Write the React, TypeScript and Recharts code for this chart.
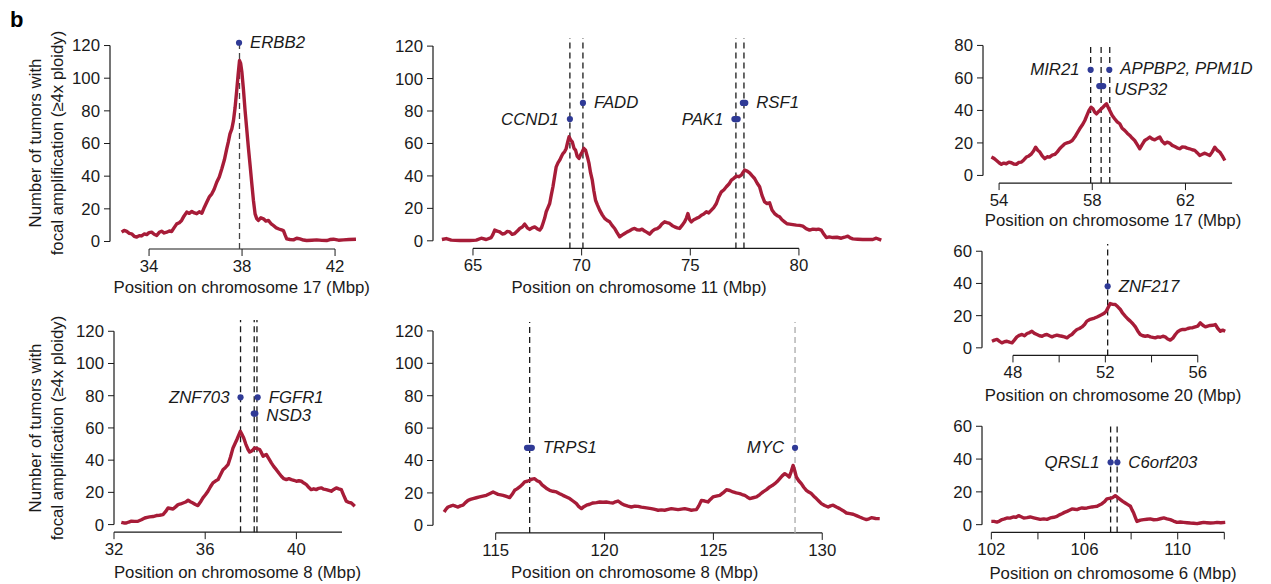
import React from 'react';
import { ComposedChart, Line, XAxis, YAxis, ReferenceLine, Scatter, ReferenceDot } from 'recharts';

const FONT = '"Liberation Sans", Arial, Helvetica, sans-serif';
const RED = '#A71C38';
const BLUE = '#2F3A96';
const INK = '#1a1a1a';
const FS = 16.8;

type Pt = [number, number];
type Lab = { name: string; x: number; y: number; side: 'left' | 'right' };

// ---------- Panel A: chromosome 17 (ERBB2) ----------
const erbb2Curve: Pt[] = [[32.82,5.7],[32.93,6.8],[33.04,6.2],[33.15,5.0],[33.25,4.7],[33.36,3.2],[33.47,2.7],[33.58,3.6],[33.68,3.4],[33.8,4.6],[33.9,4.2],[34.0,5.4],[34.11,5.7],[34.22,4.4],[34.33,3.7],[34.44,5.6],[34.54,6.3],[34.65,5.2],[34.76,5.7],[34.87,6.4],[34.97,6.1],[35.08,8.5],[35.19,10.8],[35.3,11.5],[35.4,12.9],[35.5,15.5],[35.62,18],[35.73,17.2],[35.84,18.4],[35.95,17.5],[36.05,17],[36.16,18.2],[36.27,17.3],[36.38,21],[36.48,24],[36.6,27.5],[36.7,29.2],[36.8,32],[36.91,36.3],[37.02,39.5],[37.13,44.5],[37.24,50],[37.34,56.7],[37.41,61],[37.48,65.9],[37.56,69],[37.63,74],[37.7,82],[37.77,92.4],[37.83,102],[37.89,110.8],[37.94,109],[37.99,104],[38.06,93],[38.13,80.2],[38.2,69],[38.27,57.8],[38.35,46],[38.42,35.3],[38.49,25],[38.56,16.9],[38.63,14],[38.7,12.9],[38.81,14.5],[38.92,13.9],[39.02,12.5],[39.13,12.9],[39.24,11],[39.35,9.8],[39.45,8.5],[39.56,7.8],[39.67,7.2],[39.78,6.7],[39.85,4],[39.92,1.6],[40.06,1.2],[40.21,1.0],[40.35,2.0],[40.49,1.6],[40.64,0.9],[40.78,0.6],[41.0,0.8],[41.21,1.0],[41.43,0.7],[41.64,0.6],[41.78,1.2],[41.93,1.4],[42.15,0.8],[42.36,1.0],[42.6,1.2],[42.9,1.4]];
const erbb2Marks = [37.89];
const erbb2MarkTone = ['#444'];
const erbb2Dots: Pt[] = [[37.87, 121.7]];
const erbb2Labels: Lab[] = [{ name: 'ERBB2', x: 37.87, y: 121.7, side: 'right' }];

// ---------- Panel B: chromosome 11 (CCND1 / PAK1) ----------
const chr11Curve: Pt[] = [[63.57,0.8],[63.77,1.4],[64.0,0.4],[64.39,0.2],[64.85,0.2],[65.15,0.4],[65.38,1.6],[65.61,0.8],[65.84,2],[65.92,4],[66.0,6.6],[66.12,6.0],[66.23,5.5],[66.35,4.2],[66.46,4.5],[66.58,5.8],[66.69,5.5],[66.8,4.0],[66.92,4.5],[67.04,6.0],[67.15,7.6],[67.27,8.5],[67.38,10.3],[67.5,8.0],[67.61,7],[67.72,8.0],[67.84,8.6],[67.95,7.5],[68.07,6.6],[68.15,8],[68.22,10.7],[68.3,14],[68.37,17.9],[68.45,20.5],[68.53,23],[68.6,28],[68.68,33.3],[68.76,40],[68.83,45.6],[68.91,48],[68.99,49.7],[69.07,52],[69.14,53.8],[69.22,55],[69.29,56.9],[69.36,61],[69.42,64.1],[69.5,62],[69.57,61],[69.65,57],[69.72,55.9],[69.8,52],[69.88,50.8],[69.95,53],[70.03,54.9],[70.1,57],[70.18,55.9],[70.26,52],[70.34,47.7],[70.41,42],[70.49,37.4],[70.56,31],[70.64,25],[70.73,22],[70.83,18.9],[70.95,16],[71.06,13.8],[71.18,12.5],[71.29,11.7],[71.4,9.5],[71.52,7.6],[71.63,5],[71.75,2.5],[71.86,3.5],[71.98,4.5],[72.1,5.5],[72.21,6.2],[72.33,7.2],[72.44,7.6],[72.55,6.8],[72.67,6.6],[72.78,7.2],[72.9,6],[73.01,5.2],[73.13,4.1],[73.25,6.0],[73.36,7],[73.48,7.5],[73.59,8.6],[73.7,10.5],[73.82,11.7],[73.93,11.2],[74.05,10.7],[74.16,9.5],[74.28,8.6],[74.4,8.0],[74.51,7.6],[74.62,9.5],[74.74,11.7],[74.82,14],[74.89,16.8],[74.97,13],[75.05,11.7],[75.16,13],[75.28,13.8],[75.4,14.5],[75.51,15.8],[75.62,16.5],[75.74,17.9],[75.85,17.2],[75.97,18.9],[76.08,20.5],[76.2,23],[76.31,27],[76.43,30.2],[76.55,31.5],[76.66,33.3],[76.78,35],[76.89,37.4],[77.0,38.5],[77.12,39.9],[77.23,39.5],[77.35,40.5],[77.42,42],[77.5,43.6],[77.62,43],[77.73,41.9],[77.85,40],[77.96,38.4],[78.08,35.5],[78.19,33.3],[78.3,28],[78.42,24],[78.53,23],[78.65,23.4],[78.76,19],[78.88,16.8],[79.0,15.5],[79.11,14.8],[79.22,13],[79.34,11.7],[79.45,10.5],[79.57,10.3],[79.72,10],[79.88,9.7],[80.03,9.5],[80.18,9],[80.33,7.5],[80.49,6.6],[80.64,7.2],[80.8,7],[80.9,7.2],[81.03,6.6],[81.15,4],[81.26,2],[81.4,2.4],[81.56,2],[81.75,2.2],[81.95,1.6],[82.1,2.2],[82.25,2.9],[82.36,1.8],[82.48,1.2],[82.7,1.0],[82.94,0.8],[83.2,0.9],[83.4,0.8],[83.56,1.6],[83.79,0.4]];
const chr11Marks = [69.46, 70.06, 77.1, 77.47];
const chr11MarkTone = [INK, INK, INK, INK];
const chr11Dots: Pt[] = [[69.46,75],[70.06,85],[77.03,75],[77.1,75],[77.18,75],[77.42,85],[77.47,85],[77.53,85]];
const chr11Labels: Lab[] = [
  { name: 'CCND1', x: 69.46, y: 75, side: 'left' },
  { name: 'FADD', x: 70.06, y: 85, side: 'right' },
  { name: 'PAK1', x: 77.03, y: 75, side: 'left' },
  { name: 'RSF1', x: 77.53, y: 85, side: 'right' },
];

// ---------- Panel C: chromosome 17 (PPM1D) ----------
const chr17qCurve: Pt[] = [[53.67,11.3],[53.78,10.5],[53.89,9.2],[54.0,7.8],[54.1,6.8],[54.2,7.6],[54.31,7.2],[54.42,8.2],[54.53,7.8],[54.63,7.0],[54.74,6.8],[54.85,8.0],[54.96,8.2],[55.06,9.5],[55.17,11.3],[55.28,12],[55.39,13.3],[55.48,15],[55.57,17.4],[55.66,15.5],[55.75,14.4],[55.85,12],[55.96,10.3],[56.07,11.5],[56.17,11.3],[56.28,12.5],[56.39,12.9],[56.5,14.5],[56.6,16.4],[56.71,18],[56.82,19.5],[56.92,20],[57.03,20.5],[57.14,21.5],[57.25,23.6],[57.35,26],[57.46,28.7],[57.57,31],[57.68,33.8],[57.77,37],[57.86,40],[57.95,42],[58.03,41],[58.1,39],[58.18,37.9],[58.25,39],[58.32,40],[58.39,41],[58.46,42],[58.53,43],[58.61,44.1],[58.68,42],[58.75,40],[58.85,37],[58.96,34.9],[59.07,33],[59.18,31.8],[59.28,29],[59.39,27.7],[59.5,26],[59.61,24.6],[59.71,23],[59.82,21.5],[59.93,19],[60.04,16.4],[60.14,19],[60.25,21.5],[60.36,22.5],[60.47,23.6],[60.57,22.5],[60.68,21.9],[60.79,22.8],[60.9,23.6],[61.0,21],[61.11,19.5],[61.21,20.5],[61.32,19.9],[61.43,18.5],[61.54,17.8],[61.64,17],[61.75,16.4],[61.86,17.5],[61.97,17.4],[62.07,16.8],[62.18,16.4],[62.29,15.8],[62.4,15.4],[62.5,14],[62.61,12.3],[62.72,13],[62.83,13.7],[62.93,13],[63.04,12.3],[63.15,14.5],[63.26,17.4],[63.36,15.5],[63.47,14.4],[63.58,12],[63.69,9.2]];
const chr17qMarks = [57.93, 58.38, 58.75];
const chr17qMarkTone = [INK, INK, INK];
const chr17qDots: Pt[] = [[57.93,65],[58.73,65],[58.3,55],[58.38,55],[58.47,55]];
const chr17qLabels: Lab[] = [
  { name: 'MIR21', x: 57.93, y: 65, side: 'left' },
  { name: 'APPBP2, PPM1D', x: 58.73, y: 66, side: 'right' },
  { name: 'USP32', x: 58.47, y: 52.8, side: 'right' },
];

// ---------- Panel D: chromosome 20 (ZNF217) ----------
const chr20Curve: Pt[] = [[47.09,4.1],[47.2,4.8],[47.31,5.2],[47.42,4.0],[47.52,3.1],[47.63,3.8],[47.74,4.1],[47.85,3.5],[47.96,3.1],[48.06,4.8],[48.17,6.8],[48.28,7.8],[48.39,8.3],[48.5,7.5],[48.61,8.9],[48.72,9.5],[48.82,10.3],[48.93,9.0],[49.04,8.3],[49.15,7.5],[49.26,7.2],[49.37,8.0],[49.47,8.3],[49.58,7.5],[49.69,6.8],[49.8,7.5],[49.9,7.9],[50.01,7.5],[50.12,7.2],[50.23,6.8],[50.34,6.2],[50.45,7.5],[50.55,8.3],[50.66,10],[50.77,11.4],[50.88,12],[50.99,13],[51.1,14.5],[51.2,16.6],[51.31,17.5],[51.42,18],[51.53,18.5],[51.64,19.2],[51.75,20],[51.85,20.7],[51.95,21.5],[52.04,22.8],[52.12,25],[52.21,27.5],[52.32,27],[52.43,26.9],[52.54,25.5],[52.65,23.8],[52.75,21.5],[52.86,19.7],[52.97,18],[53.08,16.6],[53.19,15],[53.3,13],[53.4,10.5],[53.51,8.3],[53.62,7.5],[53.73,7.2],[53.84,7.5],[53.95,6.8],[54.05,6.5],[54.16,6.2],[54.27,6.8],[54.38,6.6],[54.49,7.2],[54.59,6.8],[54.7,5.5],[54.81,4.8],[54.92,6],[55.03,8.3],[55.13,10],[55.24,11],[55.35,11.5],[55.46,11.4],[55.57,12],[55.68,12.4],[55.78,12.5],[55.89,13],[56.0,13.5],[56.11,15.5],[56.22,14],[56.33,13],[56.43,13.5],[56.54,13.9],[56.65,14],[56.76,14.5],[56.87,12],[56.98,10.3],[57.08,11],[57.19,10.3]];
const chr20Marks = [52.1];
const chr20MarkTone = [INK];
const chr20Dots: Pt[] = [[52.1,38.2]];
const chr20Labels: Lab[] = [{ name: 'ZNF217', x: 52.1, y: 38.2, side: 'right' }];

// ---------- Panel E: chromosome 8 (FGFR1) ----------
const chr8pCurve: Pt[] = [[32.32,1.4],[32.43,1.0],[32.54,1],[32.65,1.6],[32.76,2.1],[32.9,2.0],[33.05,2.1],[33.2,3.0],[33.35,4.1],[33.46,4.5],[33.56,4.8],[33.71,5.0],[33.86,5.6],[34.0,5.8],[34.15,6.2],[34.26,8],[34.37,10.3],[34.48,10.0],[34.59,9.7],[34.7,11],[34.81,12.4],[34.92,12.8],[35.03,13.4],[35.14,14],[35.25,15.1],[35.35,14.2],[35.46,13.4],[35.57,12.5],[35.68,11.8],[35.79,14],[35.9,16.6],[36.01,18.5],[36.12,20.7],[36.23,23.5],[36.34,25.9],[36.45,27],[36.56,27.9],[36.67,31],[36.78,34.1],[36.89,35.5],[37.0,37.2],[37.11,42],[37.22,47.6],[37.3,50],[37.39,52.8],[37.47,55.5],[37.54,57.9],[37.61,56],[37.69,53.8],[37.78,50],[37.88,46.6],[37.95,45],[38.02,45.5],[38.1,46.5],[38.17,47.6],[38.28,47.2],[38.39,46.6],[38.47,44.5],[38.54,42.4],[38.61,43],[38.68,43.5],[38.79,41],[38.9,38.3],[39.01,36],[39.12,34.1],[39.23,32],[39.34,30],[39.45,28.5],[39.56,27.9],[39.67,28.5],[39.78,27.9],[39.89,27.5],[40.0,26.9],[40.11,27.2],[40.22,26.9],[40.33,25.8],[40.44,24.8],[40.55,23],[40.65,21.7],[40.76,22.2],[40.87,21.7],[40.98,22.5],[41.09,22.8],[41.2,22],[41.31,21.7],[41.42,21.2],[41.53,20.7],[41.64,21.8],[41.75,22.8],[41.86,22.2],[41.97,21.7],[42.08,18],[42.19,14.5],[42.3,13.8],[42.41,13.4],[42.48,12.5],[42.56,11.4]];
const chr8pMarks = [37.55, 38.15, 38.27];
const chr8pMarkTone = [INK, INK, INK];
const chr8pDots: Pt[] = [[37.55,79],[38.3,79],[38.13,68.9],[38.2,68.9]];
const chr8pLabels: Lab[] = [
  { name: 'ZNF703', x: 37.55, y: 79, side: 'left' },
  { name: 'FGFR1', x: 38.3, y: 79, side: 'right' },
  { name: 'NSD3', x: 38.2, y: 67.5, side: 'right' },
];

// ---------- Panel F: chromosome 8 (TRPS1 / MYC) ----------
const chr8qCurve: Pt[] = [[112.63,8.2],[112.72,10],[112.81,11.3],[112.92,11.8],[113.04,12.4],[113.15,11.8],[113.27,11.3],[113.38,12],[113.5,12.4],[113.61,14],[113.73,15.4],[113.84,16],[113.96,16.5],[114.11,17],[114.26,17.5],[114.41,18],[114.57,18.5],[114.72,19.5],[114.88,20.6],[115.0,19.8],[115.11,19.1],[115.23,18.8],[115.34,18.5],[115.49,17.8],[115.64,17.1],[115.75,19],[115.87,21.6],[115.98,22.5],[116.1,23.7],[116.21,25],[116.33,26.8],[116.45,27.2],[116.56,27.8],[116.67,28.5],[116.79,28.8],[116.9,27.5],[117.02,26.8],[117.13,25],[117.25,23.7],[117.36,22.5],[117.48,21.6],[117.63,21],[117.79,20.6],[117.94,19.5],[118.09,18.5],[118.25,17.5],[118.4,16.5],[118.55,15],[118.71,13.4],[118.82,11.5],[118.94,10.3],[119.05,11.5],[119.17,12.4],[119.32,13],[119.47,13.8],[119.63,14],[119.78,14.4],[119.93,14.2],[120.08,14.4],[120.24,14],[120.39,13.8],[120.5,14.5],[120.62,15],[120.77,13.5],[120.93,12.4],[121.08,11.8],[121.23,11.3],[121.39,11.8],[121.54,11.7],[121.69,11.2],[121.85,10.9],[122.0,10.6],[122.15,10.3],[122.31,9.8],[122.46,9.3],[122.61,9.5],[122.76,9.3],[122.92,9.8],[123.07,10.3],[123.22,10],[123.38,9.7],[123.53,10],[123.68,10.3],[123.84,9.8],[123.99,9.3],[124.1,9.5],[124.22,9.7],[124.33,12],[124.45,15.4],[124.6,15],[124.75,14.4],[124.86,16],[124.98,17.5],[125.13,18],[125.29,18.5],[125.44,20],[125.6,22],[125.75,21.5],[125.9,20.6],[126.05,20],[126.21,19.6],[126.32,19],[126.44,18.5],[126.55,17.5],[126.67,16.5],[126.82,17],[126.98,17.5],[127.13,19],[127.28,20.6],[127.44,22],[127.59,23.7],[127.7,24.5],[127.82,25.7],[127.93,27],[128.05,28.8],[128.16,30.5],[128.28,31.9],[128.38,31],[128.48,29.8],[128.57,33],[128.66,37],[128.73,34],[128.81,29.8],[128.92,27.5],[129.04,25.7],[129.15,23.5],[129.27,21.6],[129.38,20.5],[129.5,19.6],[129.61,18],[129.73,16.5],[129.84,15],[129.96,13.4],[130.11,12.2],[130.27,11.3],[130.38,12],[130.5,12.4],[130.65,11.3],[130.8,10.3],[130.96,9],[131.11,7.6],[131.27,7.2],[131.42,6.8],[131.57,6],[131.72,5.1],[131.88,4.2],[132.03,3.5],[132.15,4],[132.26,4.7],[132.45,4.2],[132.64,4.1]];
const chr8qMarks = [116.56, 128.75];
const chr8qMarkTone = [INK, '#aaaaaa'];
const chr8qDots: Pt[] = [[116.44,47.8],[116.52,47.8],[116.6,47.8],[116.66,47.8],[128.75,47.8]];
const chr8qLabels: Lab[] = [
  { name: 'TRPS1', x: 116.66, y: 47.8, side: 'right' },
  { name: 'MYC', x: 128.75, y: 47.8, side: 'left' },
];

// ---------- Panel G: chromosome 6 (QRSL1 / C6orf203) ----------
const chr6Curve: Pt[] = [[102.0,2],[102.12,2.0],[102.24,1.6],[102.35,2.2],[102.46,3.1],[102.57,3.5],[102.67,4.1],[102.8,4.0],[102.96,4.7],[103.06,4.5],[103.17,5.5],[103.28,4.8],[103.39,4.1],[103.53,4.3],[103.67,4.7],[103.82,4.2],[103.96,3.7],[104.1,3.2],[104.25,3.5],[104.39,3.2],[104.53,4.1],[104.68,4.5],[104.82,5.1],[104.92,6],[105.03,6.7],[105.14,7.5],[105.25,8.1],[105.35,8.8],[105.46,9.6],[105.57,9.4],[105.68,9.2],[105.78,9.8],[105.89,10.2],[106.0,10],[106.11,10.2],[106.22,10.5],[106.32,10.8],[106.43,11],[106.54,11.2],[106.64,12],[106.75,12.8],[106.86,14],[106.96,15.7],[107.07,16],[107.18,16.3],[107.25,17],[107.32,17.7],[107.43,16.5],[107.54,15.3],[107.64,14.2],[107.75,13.2],[107.86,12.2],[107.97,11.2],[108.04,9],[108.11,7.1],[108.18,4.5],[108.25,2],[108.4,2.8],[108.54,3.1],[108.68,3.3],[108.82,3.5],[108.97,3.0],[109.11,3.1],[109.25,3.6],[109.4,4.1],[109.54,3.5],[109.68,3.1],[109.82,2.2],[109.97,1.4],[110.11,1.6],[110.25,1.4],[110.4,1.2],[110.54,1],[110.68,0.9],[110.83,0.6],[110.97,1.0],[111.11,1.4],[111.25,1.2],[111.4,1],[111.54,1.1],[111.69,1.4],[111.85,1.2],[112.04,1.4]];
const chr6Marks = [107.12, 107.4];
const chr6MarkTone = [INK, INK];
const chr6Dots: Pt[] = [[107.12,38],[107.41,38]];
const chr6Labels: Lab[] = [
  { name: 'QRSL1', x: 107.12, y: 38, side: 'left' },
  { name: 'C6orf203', x: 107.41, y: 38, side: 'right' },
];

// ---------- axis ticks ----------
const yTicks120 = [0, 20, 40, 60, 80, 100, 120];
const yTicks80 = [0, 20, 40, 60, 80];
const yTicks60 = [0, 20, 40, 60];

type PanelCfg = {
  curve: Pt[]; marks: number[]; markTone: string[]; dots: Pt[]; labels: Lab[];
  plotLeft: number; xppu: number; xMin: number; plotWidth: number;
  zeroY: number; yppu: number; yMin: number; yMax: number;
  xTicks: number[]; xLabeled: number[]; xAxisEnd: number; yTicks: number[];
  title: string; titleX: number; titleY: number;
};

const panels: PanelCfg[] = [
  { curve: erbb2Curve, marks: erbb2Marks, markTone: erbb2MarkTone, dots: erbb2Dots, labels: erbb2Labels,
    plotLeft: 110, xppu: 23.25, xMin: 32.32, plotWidth: 255, zeroY: 241, yppu: 1.633, yMin: -4.6, yMax: 124,
    xTicks: [34, 38, 42], xLabeled: [34, 38, 42], xAxisEnd: 42, yTicks: yTicks120,
    title: 'Position on chromosome 17 (Mbp)', titleX: 241.7, titleY: 287 },
  { curve: chr11Curve, marks: chr11Marks, markTone: chr11MarkTone, dots: chr11Dots, labels: chr11Labels,
    plotLeft: 433.3, xppu: 21.73, xMin: 63.16, plotWidth: 455, zeroY: 240.7, yppu: 1.6225, yMin: -4.7, yMax: 125,
    xTicks: [65, 70, 75, 80], xLabeled: [65, 70, 75, 80], xAxisEnd: 80, yTicks: yTicks120,
    title: 'Position on chromosome 11 (Mbp)', titleX: 639, titleY: 287 },
  { curve: chr17qCurve, marks: chr17qMarks, markTone: chr17qMarkTone, dots: chr17qDots, labels: chr17qLabels,
    plotLeft: 983.3, xppu: 23.3, xMin: 53.31, plotWidth: 255, zeroY: 175, yppu: 1.625, yMin: -4.7, yMax: 81.5,
    xTicks: [54, 58, 62], xLabeled: [54, 58, 62], xAxisEnd: 64, yTicks: yTicks80,
    title: 'Position on chromosome 17 (Mbp)', titleX: 1113, titleY: 220 },
  { curve: chr20Curve, marks: chr20Marks, markTone: chr20MarkTone, dots: chr20Dots, labels: chr20Labels,
    plotLeft: 981.7, xppu: 23.1, xMin: 46.66, plotWidth: 255, zeroY: 348.3, yppu: 1.61, yMin: -4.7, yMax: 64.5,
    xTicks: [48, 50, 52, 54, 56], xLabeled: [48, 52, 56], xAxisEnd: 56, yTicks: yTicks60,
    title: 'Position on chromosome 20 (Mbp)', titleX: 1113, titleY: 395 },
  { curve: chr8pCurve, marks: chr8pMarks, markTone: chr8pMarkTone, dots: chr8pDots, labels: chr8pLabels,
    plotLeft: 114.3, xppu: 22.8, xMin: 32.0, plotWidth: 255, zeroY: 525, yppu: 1.611, yMin: -4.7, yMax: 127,
    xTicks: [32, 36, 40], xLabeled: [32, 36, 40], xAxisEnd: 42, yTicks: yTicks120,
    title: 'Position on chromosome 8 (Mbp)', titleX: 237.5, titleY: 572.7 },
  { curve: chr8qCurve, marks: chr8qMarks, markTone: chr8qMarkTone, dots: chr8qDots, labels: chr8qLabels,
    plotLeft: 433.3, xppu: 21.77, xMin: 112.12, plotWidth: 455, zeroY: 525, yppu: 1.62, yMin: -4.7, yMax: 125.5,
    xTicks: [115, 120, 125, 130], xLabeled: [115, 120, 125, 130], xAxisEnd: 130, yTicks: yTicks120,
    title: 'Position on chromosome 8 (Mbp)', titleX: 634.7, titleY: 572.7 },
  { curve: chr6Curve, marks: chr6Marks, markTone: chr6MarkTone, dots: chr6Dots, labels: chr6Labels,
    plotLeft: 981.7, xppu: 23.3, xMin: 101.6, plotWidth: 255, zeroY: 525, yppu: 1.64, yMin: -4.7, yMax: 62,
    xTicks: [102, 104, 106, 108, 110, 112], xLabeled: [102, 106, 110], xAxisEnd: 112, yTicks: yTicks60,
    title: 'Position on chromosome 6 (Mbp)', titleX: 1113, titleY: 573.3 },
];

function GeneLabel(p: any) {
  const left = p.side === 'left';
  return (
    <text
      x={p.cx + (left ? -11 : 11)} y={p.cy} textAnchor={left ? 'end' : 'start'}
      dominantBaseline="central" fontStyle="italic" fontSize={FS} fill={INK}
    >
      {p.name}
    </text>
  );
}

function Panel({ c }: { c: PanelCfg }) {
  const mL = 70, mT = 12, mR = 40, mB = 40;
  const xMax = c.xMin + c.plotWidth / c.xppu;
  const plotTop = c.zeroY - c.yMax * c.yppu;
  const plotHeight = (c.yMax - c.yMin) * c.yppu;
  const curve = c.curve.map(([x, y]) => ({ x, y }));
  const dots = c.dots.map(([x, y]) => ({ x, y }));
  const yTop = c.yTicks[c.yTicks.length - 1];
  return (
    <div style={{ position: 'absolute', left: c.plotLeft - mL, top: plotTop - mT }}>
      <ComposedChart
        width={c.plotWidth + mL + mR}
        height={plotHeight + mT + mB}
        margin={{ top: mT, right: mR, bottom: 0, left: 0 }}
        style={{ overflow: 'visible' }}
      >
        <XAxis
          type="number" dataKey="x" domain={[c.xMin, xMax]} ticks={c.xTicks} interval={0}
          height={mB} axisLine={false} tickSize={7} tickMargin={4}
          stroke={INK} tick={{ fill: INK, fontSize: FS }}
          tickFormatter={(v: number) => (c.xLabeled.includes(v) ? String(v) : '')}
        />
        <YAxis
          type="number" dataKey="y" domain={[c.yMin, c.yMax]} ticks={c.yTicks} interval={0}
          width={mL} axisLine={false} tickSize={6} tickMargin={4}
          stroke={INK} tick={{ fill: INK, fontSize: FS }}
        />
        <ReferenceLine
          segment={[{ x: c.xTicks[0], y: c.yMin }, { x: c.xAxisEnd, y: c.yMin }]}
          stroke={INK} strokeWidth={1.2} ifOverflow="visible"
        />
        <ReferenceLine
          segment={[{ x: c.xMin, y: 0 }, { x: c.xMin, y: yTop }]}
          stroke={INK} strokeWidth={1.2} ifOverflow="visible"
        />
        {c.marks.map((m, i) => (
          <ReferenceLine key={'m' + i} x={m} stroke={c.markTone[i]} strokeDasharray="6 4" strokeWidth={1.3} ifOverflow="visible" />
        ))}
        <Line
          data={curve} dataKey="y" type="linear" stroke={RED} strokeWidth={3.4}
          dot={false} isAnimationActive={false} strokeLinejoin="round"
        />
        <Scatter
          data={dots} dataKey="y" isAnimationActive={false}
          shape={(p: any) => <circle cx={p.cx} cy={p.cy} r={3.1} fill={BLUE} />}
        />
        {c.labels.map((l, i) => (
          <ReferenceDot
            key={'l' + i} x={l.x} y={l.y} r={0} ifOverflow="visible"
            shape={(p: any) => <GeneLabel cx={p.cx} cy={p.cy} side={l.side} name={l.name} />}
          />
        ))}
      </ComposedChart>
    </div>
  );
}

const yLabelLines = ['Number of tumors with', 'focal amplification (\u22654x ploidy)'];

export default function App() {
  return (
    <div style={{ position: 'absolute', left: 0, top: 0, width: 1271, height: 584, background: '#fff', fontFamily: FONT }}>
      {panels.map((c, i) => (
        <Panel key={i} c={c} />
      ))}
      <svg width={1271} height={584} style={{ position: 'absolute', left: 0, top: 0, pointerEvents: 'none' }} fontFamily={FONT}>
        <text x={10} y={27} fontWeight="bold" fontSize={22} fill="#000">b</text>
        {panels.map((c, i) => (
          <text key={'t' + i} x={c.titleX} y={c.titleY} textAnchor="middle" dominantBaseline="central" fontSize={FS} fill={INK}>
            {c.title}
          </text>
        ))}
        {[143, 428].map((cy, k) => (
          <g key={'yl' + k}>
            {yLabelLines.map((line, j) => {
              const x = j === 0 ? 35 : 57;
              return (
                <text key={j} x={x} y={cy} transform={`rotate(-90, ${x}, ${cy})`} textAnchor="middle" dominantBaseline="central" fontSize={FS} fill={INK}>
                  {line}
                </text>
              );
            })}
          </g>
        ))}
      </svg>
    </div>
  );
}
